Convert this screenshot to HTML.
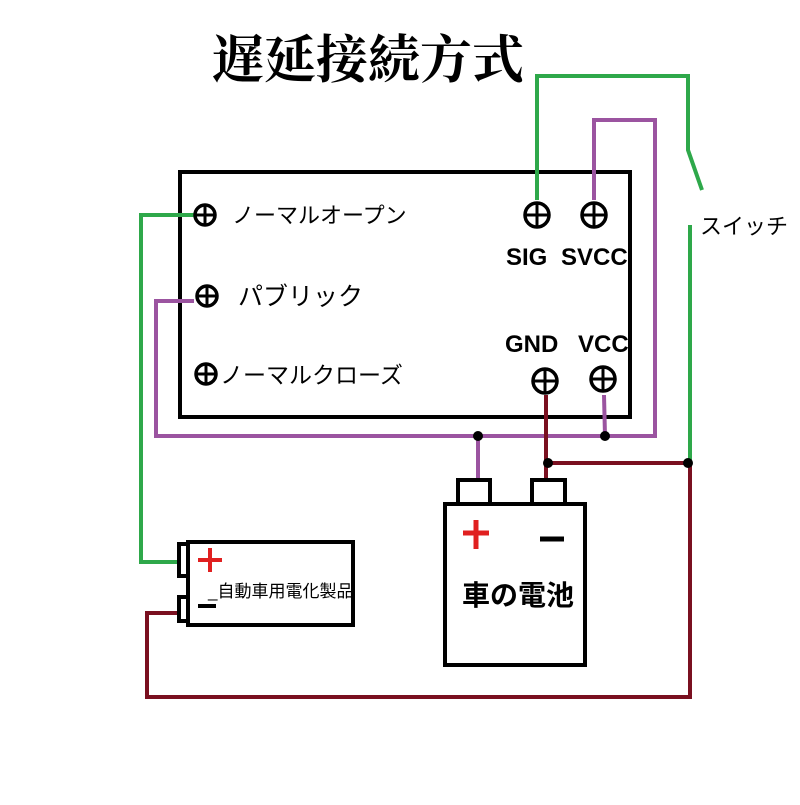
<!DOCTYPE html>
<html><head><meta charset="utf-8"><style>
body{margin:0;background:#fff;width:800px;height:800px;overflow:hidden}
svg text{font-family:"Liberation Sans","Noto Sans CJK JP",sans-serif}
</style></head><body>
<svg width="800" height="800" viewBox="0 0 800 800">
<text x="212" y="78" font-size="52" font-weight="bold" style="font-family:'Liberation Serif','Noto Serif CJK SC',serif">遅延接続方式</text>
<rect x="180" y="172" width="450" height="245" fill="none" stroke="#000" stroke-width="4"/>
<g fill="none" stroke-width="4">
<polyline points="537,200 537,76 688,76 688,150 702,190" stroke="#2ea84a"/>
<polyline points="690,225 690,462" stroke="#2ea84a"/>
<polyline points="196,215 141,215 141,562 180,562" stroke="#2ea84a"/>
<polyline points="594,200 594,120 655,120 655,436 156,436 156,301 194,301" stroke="#9b54a0"/>
<polyline points="604,395 605,436" stroke="#9b54a0"/>
<polyline points="478,436 478,482" stroke="#9b54a0"/>
<polyline points="546,395 546,482" stroke="#7a1020"/>
<polyline points="548,463 690,463 690,697 147,697 147,613 182,613" stroke="#7a1020"/>
</g>
<g fill="#000">
<circle cx="478" cy="436" r="5"/><circle cx="605" cy="436" r="5"/>
<circle cx="548" cy="463" r="5"/><circle cx="688" cy="463" r="5"/>
</g>
<g fill="#fff" stroke="#000" stroke-width="3.5">
<circle cx="205" cy="215" r="10"/><circle cx="207" cy="296" r="10"/><circle cx="206" cy="374" r="10"/>
<circle cx="537" cy="215" r="12"/><circle cx="594" cy="215" r="12"/>
<circle cx="545" cy="381" r="12"/><circle cx="603" cy="379" r="12"/>
</g>
<g stroke="#000" stroke-width="3">
<path d="M195 215h20M205 205v20M197 296h20M207 286v20M196 374h20M206 364v20M525 215h24M537 203v24M582 215h24M594 203v24M533 381h24M545 369v24M591 379h24M603 367v24"/>
</g>
<g fill="#000">
<text x="232" y="223" font-size="22">ノーマルオープン</text>
<text x="238" y="305" font-size="25">パブリック</text>
<text x="220" y="383" font-size="23">ノーマルクローズ</text>
<text x="700" y="234" font-size="22">スイッチ</text>
</g>
<g font-size="24" font-weight="bold" fill="#000">
<text x="506" y="265">SIG</text><text x="561" y="265">SVCC</text>
<text x="505" y="352">GND</text><text x="578" y="352">VCC</text>
</g>
<g fill="#fff" stroke="#000" stroke-width="4">
<rect x="458" y="480" width="32" height="24"/><rect x="532" y="480" width="33" height="24"/>
<rect x="445" y="504" width="140" height="161"/>
<rect x="179" y="544" width="10" height="32"/><rect x="179" y="597" width="10" height="24"/>
<rect x="188" y="542" width="165" height="83"/>
</g>
<path d="M463 533h26M476 520v29" stroke="#e02020" stroke-width="5"/>
<path d="M540 539h24" stroke="#000" stroke-width="5"/>
<text x="462" y="605" font-size="28" font-weight="bold" fill="#000">車の電池</text>
<path d="M198 560h24M210 548v24" stroke="#e02020" stroke-width="4"/>
<path d="M198 606h18" stroke="#000" stroke-width="4"/>
<text x="208" y="597" font-size="17" fill="#000">_自動車用電化製品</text>
</svg>
</body></html>
